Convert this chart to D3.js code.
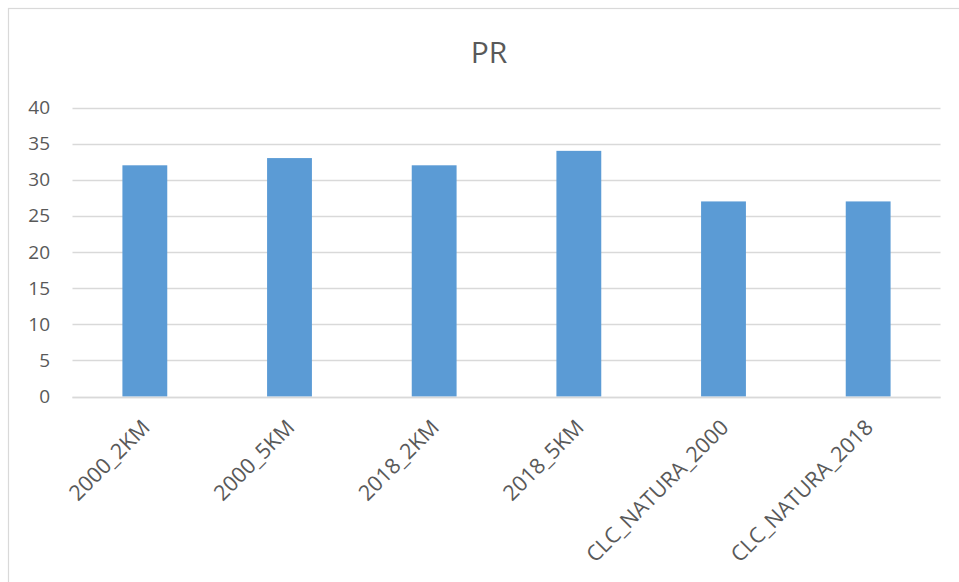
<!DOCTYPE html>
<html>
<head>
<meta charset="utf-8">
<script src="https://cdn.jsdelivr.net/npm/d3@7"></script>
<style>
  html, body { margin: 0; padding: 0; background: #fff; }
  svg { display: block; }
  text { font-family: "Open Sans", "Noto Sans", sans-serif; fill: #595959; }
</style>
</head>
<body>
<svg id="chart" width="959" height="582"></svg>
<script>
// Chart data
const categories = ["2000_2KM", "2000_5KM", "2018_2KM", "2018_5KM", "CLC_NATURA_2000", "CLC_NATURA_2018"];
const values = [32, 33, 32, 34, 27, 27];
const yTicks = [0, 5, 10, 15, 20, 25, 30, 35, 40];
const title = "PR";

const width = 959, height = 582;
const plot = { left: 72.5, right: 940.5, top: 107.5, bottom: 396.5 };

const svg = d3.select("#chart");

// Outer chart border
svg.append("rect")
  .attr("x", 8.5).attr("y", 8.5)
  .attr("width", 960).attr("height", 590)
  .attr("fill", "none")
  .attr("stroke", "#D9D9D9")
  .attr("stroke-width", 1.2);

const x = d3.scaleBand()
  .domain(categories)
  .range([plot.left, plot.right])
  .paddingInner(0.69)
  .paddingOuter(0.345);

const y = d3.scaleLinear()
  .domain([0, 40])
  .range([plot.bottom, plot.top]);

// Horizontal gridlines
svg.append("g")
  .selectAll("line")
  .data(yTicks)
  .join("line")
  .attr("x1", plot.left).attr("x2", plot.right)
  .attr("y1", d => Math.round(y(d)) + 0.5)
  .attr("y2", d => Math.round(y(d)) + 0.5)
  .attr("stroke", "#D9D9D9")
  .attr("stroke-width", 1.3);

// Y-axis labels
const yAxis = d3.axisLeft(y).tickValues(yTicks).tickSize(0).tickPadding(0);
const yg = svg.append("g")
  .attr("transform", `translate(${50}, 0)`)
  .call(yAxis);
yg.select(".domain").remove();
yg.selectAll("text")
  .attr("font-size", 19)
  .attr("fill", "#595959")
  .attr("font-family", "'Open Sans', sans-serif");

// Bars
svg.append("g")
  .selectAll("rect")
  .data(values)
  .join("rect")
  .attr("x", (d, i) => x(categories[i]))
  .attr("width", x.bandwidth())
  .attr("y", d => y(d))
  .attr("height", d => y(0) - y(d))
  .attr("fill", "#5B9BD5");

// Redraw baseline on top of bars
svg.append("line")
  .attr("x1", plot.left).attr("x2", plot.right)
  .attr("y1", Math.round(y(0)) + 0.5).attr("y2", Math.round(y(0)) + 0.5)
  .attr("stroke", "#D9D9D9").attr("stroke-width", 1.3);

// X-axis category labels, rotated
const xAxis = d3.axisBottom(x).tickSize(0).tickPadding(0);
const xg = svg.append("g")
  .attr("transform", `translate(0, ${plot.bottom})`)
  .call(xAxis);
xg.select(".domain").remove();
xg.selectAll("text")
  .attr("font-size", 21.5)
  .attr("fill", "#595959")
  .attr("font-family", "'Open Sans', sans-serif")
  .attr("text-anchor", "end")
  .attr("dy", "0.35em")
  .attr("transform", "translate(1, 27) rotate(-45)");

// Title
svg.append("text")
  .attr("x", 489).attr("y", 63)
  .attr("text-anchor", "middle")
  .attr("font-size", 30)
  .text(title);
</script>
</body>
</html>
